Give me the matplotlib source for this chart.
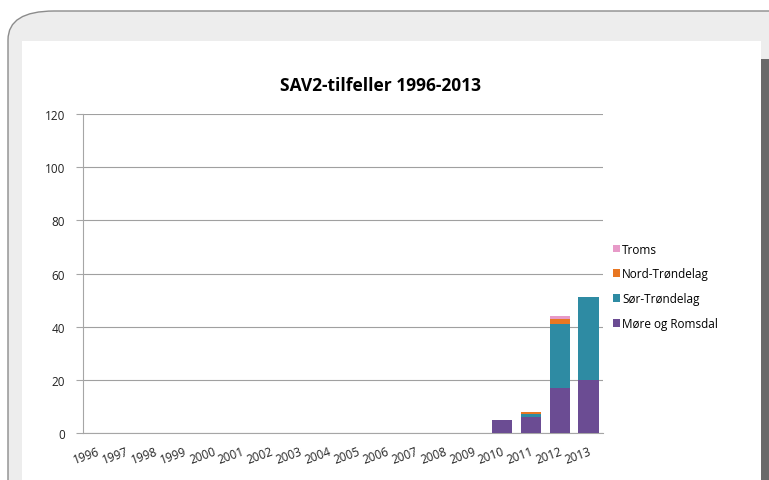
import numpy as np
import matplotlib.pyplot as plt
from matplotlib.patches import FancyBboxPatch, Rectangle

# ── Data ──────────────────────────────────────────────────────────────────────
years = [str(y) for y in range(1996, 2014)]
more_romsdal = [0] * 14 + [5, 6, 17, 20]
sor_trondelag = [0] * 14 + [0, 1, 24, 31]
nord_trondelag = [0] * 14 + [0, 1, 2, 0]
troms = [0] * 14 + [0, 0, 1, 0]

series = [
    ('Møre og Romsdal', more_romsdal, '#6B4C93'),
    ('Sør-Trøndelag', sor_trondelag, '#2E8BA3'),
    ('Nord-Trøndelag', nord_trondelag, '#E87722'),
    ('Troms', troms, '#E79AC8'),
]

plt.rcParams['font.family'] = ['Open Sans', 'DejaVu Sans']

fig = plt.figure(figsize=(7.69, 4.81), dpi=100)
W, H = 769, 481

# ── Frame: grey rounded panel, white card, dark strip on the right ────────────
fig.patches.append(FancyBboxPatch((8 / W, -0.2), 1.2, (H - 12) / H + 0.2,
                                  boxstyle='round,pad=0,rounding_size=0.06',
                                  transform=fig.transFigure, facecolor='#EDEDED',
                                  edgecolor='#8C8C8C', linewidth=1.0, zorder=0))
fig.patches.append(Rectangle((22 / W, 0), (761 - 22) / W, (H - 42) / H,
                             transform=fig.transFigure, facecolor='white',
                             edgecolor='none', zorder=1))
fig.patches.append(Rectangle((761 / W, 0), 8 / W, (H - 60) / H,
                             transform=fig.transFigure, facecolor='#6A6A6A',
                             edgecolor='none', zorder=1))

# ── Axes ─────────────────────────────────────────────────────────────────────
ax = fig.add_axes([83 / W, (H - 434) / H, (603 - 83) / W, (434 - 115) / H])
ax.set_facecolor('none')
ax.set_zorder(2)

x = np.arange(len(years))
bottom = np.zeros(len(years))
handles = []
for name, vals, col in series:
    b = ax.bar(x, vals, width=0.7, bottom=bottom, color=col,
               edgecolor='none', label=name, zorder=3)
    handles.append(b)
    bottom += np.array(vals)

ax.set_xlim(-0.5, len(years) - 0.5)
ax.set_ylim(0, 120)
ax.set_yticks(range(0, 121, 20))
ax.yaxis.grid(True, color='#A0A0A0', linewidth=0.8)
ax.set_axisbelow(True)
for s in ['top', 'right']:
    ax.spines[s].set_visible(False)
ax.spines['left'].set_color('#A6A6A6')
ax.spines['bottom'].set_color('#A6A6A6')
ax.tick_params(axis='y', length=5, color='#A6A6A6', labelsize=8.5,
               labelcolor='#222222', pad=8)
ax.tick_params(axis='x', length=0, labelsize=8.5, labelcolor='#222222', pad=8)
ax.set_xticks(x)
ax.set_xticklabels(years, rotation=20, ha='right', rotation_mode='anchor')

fig.text(381 / W, 1 - 86 / H, 'SAV2-tilfeller 1996-2013', fontsize=12.5,
         fontweight='bold', ha='center', va='center', color='black', zorder=5)

ax.legend(handles[::-1], [s[0] for s in series][::-1],
          loc='center left', bbox_to_anchor=(0.998, 0.46),
          frameon=False, fontsize=8.5, handlelength=0.6, handleheight=0.6,
          handletextpad=0.2, labelspacing=1.0)

fig.savefig('out.png', dpi=100)
